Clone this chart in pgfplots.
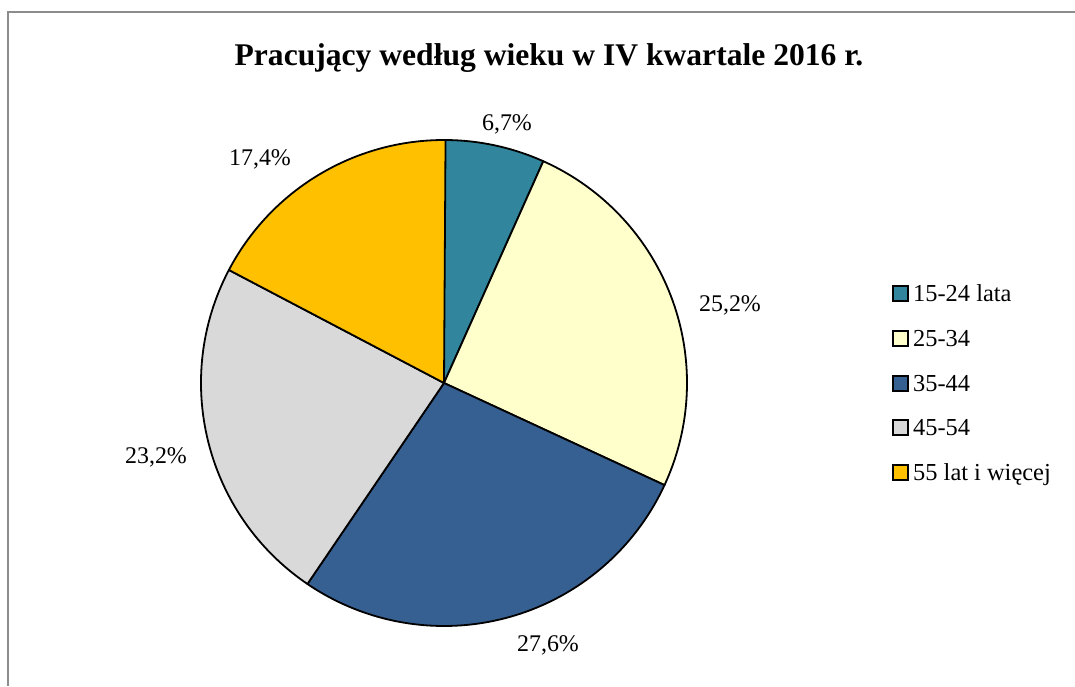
\documentclass[border=0pt]{standalone}
\usepackage{fontspec}
\setmainfont{Liberation Serif}
\usepackage{pgfplots}
\usepackage{pgfplotstable}
\pgfplotsset{compat=1.18}

\definecolor{c1}{HTML}{31859C}
\definecolor{c2}{HTML}{FFFFCC}
\definecolor{c3}{HTML}{376092}
\definecolor{c4}{HTML}{D9D9D9}
\definecolor{c5}{HTML}{FFC000}
\definecolor{frame}{HTML}{8C8C8C}

% share in percent, slice colour, label position (px, base line), legend base line
\pgfplotstableread[col sep=comma]{
name,value,col,lx,ly,gy
15-24 lata,6.7,c1,507,130,301
25-34,25.2,c2,730,311,346
35-44,27.6,c3,548,651,391
45-54,23.2,c4,156,463,435
55 lat i więcej,17.4,c5,260,165,480
}\piedata

\begin{document}
\begin{tikzpicture}
\begin{axis}[
    width=1075bp, height=686bp,
    scale only axis,
    xmin=0, xmax=1075,
    ymin=0, ymax=686,
    y dir=reverse,
    hide axis,
    clip=false,
]
\pgfplotsextra{
    % frame of the chart area (only left and top edge visible)
    \draw[frame, line width=1.8bp] (axis cs:8,686) -- (axis cs:8,12) -- (axis cs:1075,12);
    \node[anchor=base, font=\fontsize{31.7}{36}\selectfont\bfseries]
        at (axis cs:549,66) {Pracujący według wieku w IV kwartale 2016 r.};
    \gdef\cum{90}
    \foreach \i in {0,...,4}{
        \pgfplotstablegetelem{\i}{value}\of\piedata \let\v\pgfplotsretval
        \pgfplotstablegetelem{\i}{col}\of\piedata \let\c\pgfplotsretval
        \pgfplotstablegetelem{\i}{name}\of\piedata \let\n\pgfplotsretval
        \pgfplotstablegetelem{\i}{lx}\of\piedata \let\lx\pgfplotsretval
        \pgfplotstablegetelem{\i}{ly}\of\piedata \let\ly\pgfplotsretval
        \pgfplotstablegetelem{\i}{gy}\of\piedata \let\gy\pgfplotsretval
        \pgfmathsetmacro\a{\cum}
        \pgfmathsetmacro\b{\cum-3.6*\v}
        \fill[fill=\c, draw=black, line width=1.8bp, line join=round]
            (axis cs:444,383) -- ++(\a:243bp)
            arc[start angle=\a, end angle=\b, radius=243bp] -- cycle;
        \xdef\cum{\b}
        \node[anchor=base, font=\fontsize{24}{28}\selectfont]
            at (axis cs:\lx,\ly) {\pgfmathprintnumber[fixed,precision=1,fixed zerofill,use comma,
                assume math mode=true]{\v}\%};
        % legend entry
        \draw[fill=\c, draw=black, line width=1.4bp]
            (axis cs:893,\gy-15) rectangle (axis cs:908,\gy);
        \node[anchor=base west, inner sep=0pt, font=\fontsize{24.5}{28}\selectfont]
            at (axis cs:913,\gy) {\n};
    }
}
\end{axis}
\pgfresetboundingbox
\path (current axis.south west) rectangle (current axis.north east);
\end{tikzpicture}
\end{document}
